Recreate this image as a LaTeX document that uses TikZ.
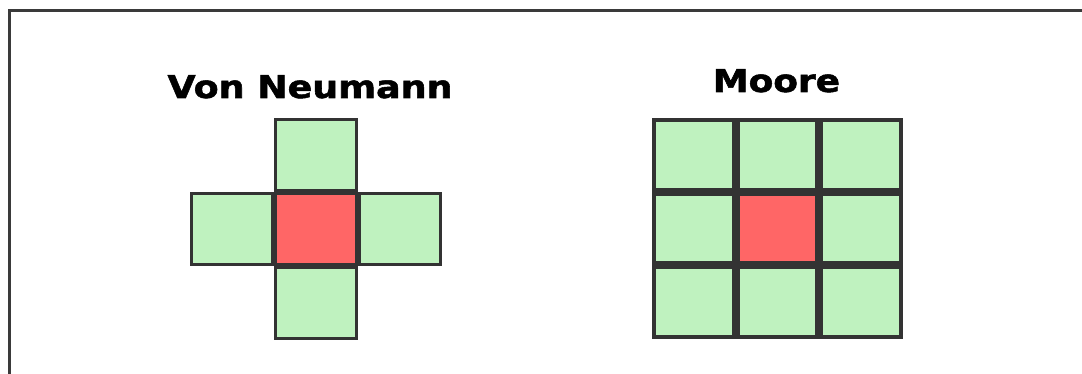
\documentclass[tikz,border=0pt]{standalone}
\usepackage{fontspec}
\setmainfont{DejaVu Sans}
\newfontfamily\titlefont{DejaVu Sans Bold}[FakeBold=1.6]
\definecolor{cellgreen}{HTML}{BFF2BF}
\definecolor{cellred}{HTML}{FF6666}
\definecolor{cellline}{HTML}{333333}
\definecolor{framecol}{HTML}{3A3A3A}
\begin{document}
\begin{tikzpicture}[x=1pt,y=-1pt,
  cellbase/.style={draw=cellline, rectangle, inner sep=0pt, outer sep=0pt},
  vncell/.style={cellbase, line width=3pt, minimum width=81pt, minimum height=71pt},
  mcell/.style={cellbase, line width=4pt, minimum width=79.7pt, minimum height=69.7pt},
  live/.style={fill=cellgreen},
  focus/.style={fill=cellred},
  title/.style={font=\titlefont\fontsize{31.5}{36}\selectfont, anchor=base, inner sep=0pt},
  framestyle/.style={draw=framecol, line width=2.5pt}]
\useasboundingbox (0,0) rectangle (1082,374);
% frame (top and left edges visible)
\draw[framestyle] (9.5,374) -- (9.5,10.5) -- (1082,10.5);
% titles
\node[title] (vntitle) at (310,98) {\scalebox{1.155}[1]{Von Neumann}};
\node[title] (mtitle) at (776.5,92) {\scalebox{1.14}[1]{Moore}};
% Von Neumann neighbourhood
\node[vncell, live] (vnN) at (315.5,155) {};
\node[vncell, live] (vnS) at (315.5,303) {};
\node[vncell, live] (vnW) at (231.5,229) {};
\node[vncell, live] (vnE) at (399.5,229) {};
\node[vncell, focus] (vnC) at (315.5,229) {};
% Moore neighbourhood
\foreach \i in {-1,0,1} {
  \foreach \j in {-1,0,1} {
    \node[mcell, live] (m\i\j) at ({777.5+83.7*\i},{228.5+73.7*\j}) {};
  }
}
\node[mcell, focus] (mC) at (777.5,228.5) {};
\end{tikzpicture}
\end{document}
